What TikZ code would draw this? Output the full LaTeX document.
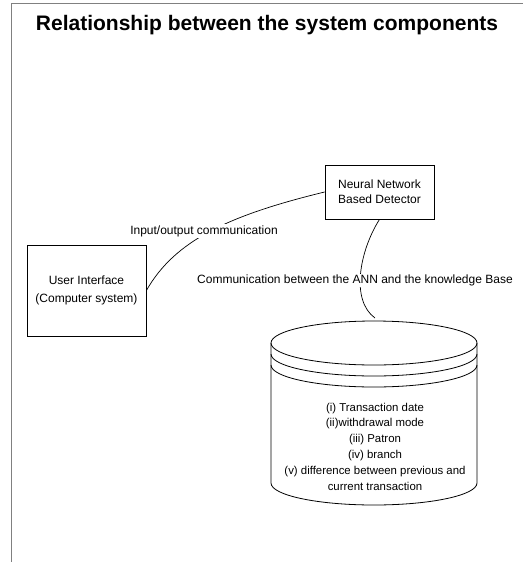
\documentclass[tikz,border=0pt]{standalone}
\usepackage{fontspec}
\setmainfont{Liberation Sans}
\begin{document}
\begin{tikzpicture}[x=1pt,y=-1pt,
  boxnode/.style={draw=black,line width=0.8pt,align=center,font=\fontsize{12}{15}\selectfont,inner sep=0pt},
  lbl/.style={fill=white,inner sep=1pt,font=\fontsize{12}{15}\selectfont},
  conn/.style={draw=black,line width=0.7pt},
  framel/.style={draw=black!50,line width=1pt}]
\useasboundingbox (0,0) rectangle (523,562);
% frame
\coordinate (f1) at (11,562);
\coordinate (f2) at (11,3);
\coordinate (f3) at (523,3);
\draw[framel] (f1) -- (f2) -- (f3);
% title
\node[font=\fontsize{21}{25}\selectfont\bfseries] (title) at (267,25) {Relationship between the system components};
% boxes
\node[boxnode,minimum width=109pt,minimum height=54pt] (nn) at (379.5,192) {Neural Network\\Based Detector};
\node[boxnode,minimum width=119pt,minimum height=91pt,align=center,font=\fontsize{12}{18}\selectfont] (ui) at (86.5,290.5) {User Interface\\(Computer system)};
% cylinder
\begin{scope}[line width=0.8pt]
\draw (271,343) arc[start angle=180,end angle=540,x radius=103,y radius=22];
\draw (271,354) arc[start angle=180,end angle=0,x radius=103,y radius=22];
\draw (271,365) arc[start angle=180,end angle=0,x radius=103,y radius=22];
\draw (271,343) -- (271,483) arc[start angle=180,end angle=0,x radius=103,y radius=22] -- (477,343);
\end{scope}
\node[align=center,font=\fontsize{11.4}{15.8}\selectfont,inner sep=0pt] (kb) at (375,446.5) {(i) Transaction date\\(ii)withdrawal mode\\(iii) Patron\\(iv) branch\\(v) difference between previous and\\current transaction};
\coordinate (kbtop) at (375,318);
% connectors
\draw[conn] (ui.east) .. controls (175,240) and (230,215) .. (nn.west);
\draw[conn] (nn.south) .. controls (360,250) and (350,300) .. (kbtop);
% labels
\node[lbl] (l1) at (204,231) {Input/output communication};
\node[lbl] (l2) at (355,280.5) {Communication between the ANN and the knowledge Base};
\end{tikzpicture}
\end{document}
